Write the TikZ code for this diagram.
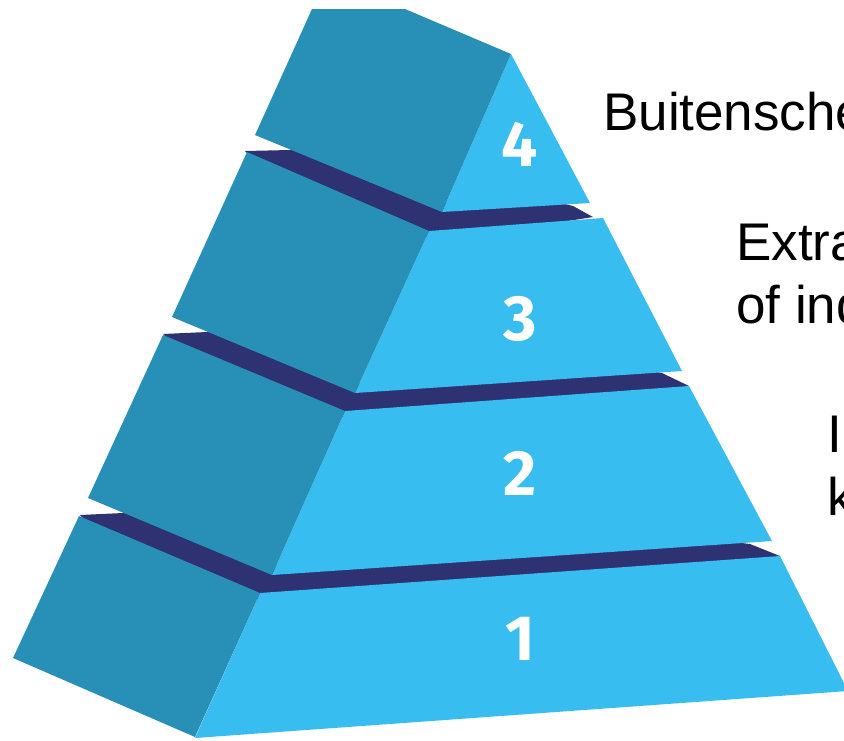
\documentclass[tikz,border=0pt]{standalone}
\usepackage{fontspec}
\setmainfont{Liberation Sans}
\newfontfamily\digitfont{Fira Sans}
\definecolor{frontblue}{HTML}{38BDF1}
\definecolor{sideblue}{HTML}{288FB6}
\definecolor{bandblue}{HTML}{2E3172}
\tikzset{
  frontface/.style={fill=frontblue},
  sideface/.style={fill=sideblue},
  bandface/.style={fill=bandblue},
  tiernum/.style={text=white,inner sep=0pt,font=\digitfont\bfseries\fontsize{64}{64}\selectfont},
  caption/.style={text=black,inner sep=0pt,anchor=base west,font=\fontsize{53}{63}\selectfont}
}
\begin{document}
\begin{tikzpicture}[x=1pt,y=-1pt]
\useasboundingbox (0,0) rectangle (844,740);
\clip (0,0) rectangle (844,740);
% bands (their hidden edges run on under the faces drawn later)
\path[bandface] (80,515) -- (123,513) -- (140,505) -- (272,565) -- (700,538) -- (750,544) -- (780,556) -- (700,570) -- (260,600) -- (100,535) -- cycle;
\path[bandface] (163,334) -- (207,332) -- (225,325) -- (355,383) -- (620,365) -- (662,373) -- (689,386) -- (620,400) -- (345,418) -- (180,350) -- cycle;
\path[bandface] (245,151) -- (290,150) -- (305,140) -- (442,202) -- (540,198) -- (573,206) -- (593,217) -- (530,227) -- (429,238) -- (262,168) -- cycle;
% tier 1
\path[frontface] (260,593) -- (780,556) -- (848,691) -- (195,738) -- cycle;
\path[sideface] (79,516) -- (13,658) -- (195,737) -- (260,593) -- cycle;
% tier 2
\path[frontface] (345,411) -- (689,386) -- (772,541) -- (272,575) -- cycle;
\path[sideface] (163,335) -- (88,498) -- (272,575) -- (345,411) -- cycle;
% tier 3
\path[frontface] (429,231) -- (603,218) -- (682,371) -- (355,393) -- cycle;
\path[sideface] (247,152) -- (172,317) -- (355,393) -- (429,231) -- cycle;
% tier 4
\path[frontface] (511,54) -- (590,203) -- (442,212) -- cycle;
\path[sideface] (312,9) -- (405,9) -- (511,54) -- (442,212) -- (255,135) -- cycle;
% numbers
\node[tiernum] (n4) at (520,144) {4};
\node[tiernum] (n3) at (520,319) {3};
\node[tiernum] (n2) at (520,473) {2};
\node[tiernum] (n1) at (520,639) {1};
% captions
\node[caption] (c4) at (603,130) {Buitensche};
\node[caption] (c3a) at (736,260) {Extra};
\node[caption] (c3b) at (736,323) {of ind};
\node[caption] (c2a) at (827,452) {I};
\node[caption] (c2b) at (827,515) {k};
\end{tikzpicture}
\end{document}
